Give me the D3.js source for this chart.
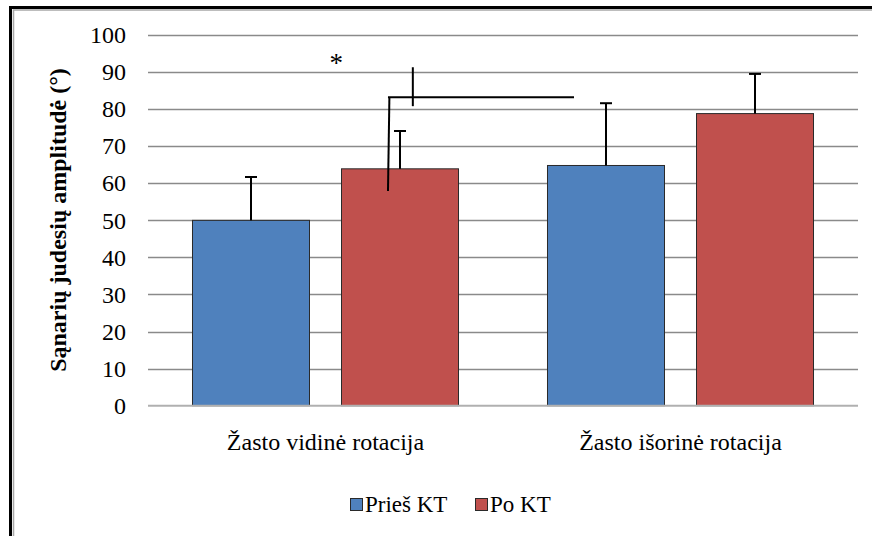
<!DOCTYPE html>
<html>
<head>
<meta charset="utf-8">
<script src="https://cdn.jsdelivr.net/npm/d3@7"></script>
</head>
<body style="margin:0">
<svg id="chart" width="872" height="536"></svg>
<script>
// ---- data ----
const categories = ["Žasto vidinė rotacija", "Žasto išorinė rotacija"];
const seriesNames = ["Prieš KT", "Po KT"];
const seriesColors = ["#4F81BD", "#C0504D"];
const priesValues = [50, 64.8];
const poValues = [63.9, 78.8];
const priesErrors = [11.7, 16.8];
const poErrors = [10.2, 10.7];
const yTicks = [0, 10, 20, 30, 40, 50, 60, 70, 80, 90, 100];
const yTitle = "Sąnarių judesių amplitudė (°)";
// significance annotation, x in category units (0..2), y in data units
const bracketLeftX = [0.676, 0.680];
const bracketLeftY = [57.9, 83.2];
const bracketLineX = [0.676, 1.2];
const bracketLineY = 83.2;
const bracketTickX = 0.746;
const bracketTickY = [80.8, 91.3];
const starPos = [0.53, 93.5];

// ---- layout ----
const FONT = "Liberation Serif";
const svg = d3.select("#chart");
const plot = { left: 148, right: 858, top: 35, bottom: 405.7 };

const y = d3.scaleLinear().domain([0, 100]).range([plot.bottom, plot.top]);
const x0 = d3.scaleBand().domain(categories).range([plot.left, plot.right]).padding(0);
const x1 = d3.scaleBand().domain(seriesNames).range([0, x0.bandwidth()])
  .paddingInner(0.2148).paddingOuter(0.2986);
const xc = d3.scaleLinear().domain([0, 2]).range([plot.left, plot.right]);

// frame
svg.append("rect").attr("x", 10.5).attr("y", 7.5).attr("width", 900).attr("height", 600)
  .attr("fill", "none").attr("stroke", "#000").attr("stroke-width", 3);
svg.append("rect").attr("x", 13.5).attr("y", 10).attr("width", 900).attr("height", 600)
  .attr("fill", "none").attr("stroke", "#a8a8a8").attr("stroke-width", 1.5);

// gridlines
svg.append("g").selectAll("line").data(yTicks.filter(d => d > 0)).join("line")
  .attr("x1", plot.left).attr("x2", plot.right)
  .attr("y1", d => Math.round(y(d)) + 0.5).attr("y2", d => Math.round(y(d)) + 0.5)
  .attr("stroke", "#8a8a8a").attr("stroke-width", 1.4);

// y axis labels (drawn through the scale; axis generator used for positions)
const yAxis = d3.axisLeft(y).tickValues(yTicks).tickSize(0).tickPadding(22);
const ya = svg.append("g").attr("transform", `translate(${plot.left},0)`).call(yAxis);
ya.attr("font-family", FONT).attr("font-size", 24);
ya.select(".domain").remove();
ya.selectAll("text").attr("font-family", FONT).attr("font-size", 24).attr("fill", "#000");

// bars
const seriesData = [priesValues, poValues];
const seriesErr = [priesErrors, poErrors];
const barData = [];
categories.forEach((c, i) => {
  seriesNames.forEach((s, j) => {
    barData.push({ c, s, j, v: seriesData[j][i], e: seriesErr[j][i] });
  });
});
svg.append("g").selectAll("rect").data(barData).join("rect")
  .attr("x", d => x0(d.c) + x1(d.s))
  .attr("y", d => y(d.v))
  .attr("width", x1.bandwidth())
  .attr("height", d => y(0) - y(d.v))
  .attr("fill", d => seriesColors[d.j])
  .attr("stroke", "#2a2a2a").attr("stroke-width", 1);

// x axis baseline
svg.append("line").attr("x1", plot.left).attr("x2", plot.right)
  .attr("y1", y(0)).attr("y2", y(0)).attr("stroke", "#b0b0b0").attr("stroke-width", 2);

// error bars
const eb = svg.append("g").attr("stroke", "#000").attr("stroke-width", 2);
barData.forEach(d => {
  const cx = x0(d.c) + x1(d.s) + x1.bandwidth() / 2;
  eb.append("line").attr("x1", cx).attr("x2", cx).attr("y1", y(d.v)).attr("y2", y(d.v + d.e));
  eb.append("line").attr("x1", cx - 6).attr("x2", cx + 6).attr("y1", y(d.v + d.e)).attr("y2", y(d.v + d.e));
});

// significance bracket
const sg = svg.append("g").attr("stroke", "#000").attr("stroke-width", 2);
sg.append("line").attr("x1", xc(bracketLeftX[0])).attr("y1", y(bracketLeftY[0]))
  .attr("x2", xc(bracketLeftX[1])).attr("y2", y(bracketLeftY[1]));
sg.append("line").attr("x1", xc(bracketLineX[0])).attr("x2", xc(bracketLineX[1]))
  .attr("y1", y(bracketLineY)).attr("y2", y(bracketLineY));
sg.append("line").attr("x1", xc(bracketTickX)).attr("x2", xc(bracketTickX))
  .attr("y1", y(bracketTickY[0])).attr("y2", y(bracketTickY[1]));
svg.append("text").attr("x", xc(starPos[0])).attr("y", y(starPos[1]) + 13)
  .attr("font-family", FONT)
  .attr("text-anchor", "middle").attr("font-size", 27).attr("fill", "#000").text("*");

// category labels
svg.append("g").selectAll("text").data(categories).join("text")
  .attr("x", d => x0(d) + x0.bandwidth() / 2)
  .attr("y", 450)
  .attr("font-family", FONT)
  .attr("text-anchor", "middle")
  .attr("font-size", 24).attr("fill", "#000")
  .text(d => d);

// y title
svg.append("text")
  .attr("transform", `translate(66,220) rotate(-90)`)
  .attr("font-family", FONT)
  .attr("text-anchor", "middle")
  .attr("font-size", 24).attr("font-weight", "bold").attr("fill", "#000")
  .text(yTitle);

// legend
const legendX = [350, 475];
const lg = svg.append("g");
seriesNames.forEach((s, i) => {
  lg.append("rect").attr("x", legendX[i] + 0.5).attr("y", 498.5).attr("width", 12).attr("height", 12)
    .attr("fill", seriesColors[i]).attr("stroke", "#2a2a2a").attr("stroke-width", 1);
  lg.append("text").attr("x", legendX[i] + 15).attr("y", 511.5)
    .attr("font-family", FONT)
    .attr("font-size", 23).attr("fill", "#000")
    .text(s);
});
</script>
</body>
</html>
